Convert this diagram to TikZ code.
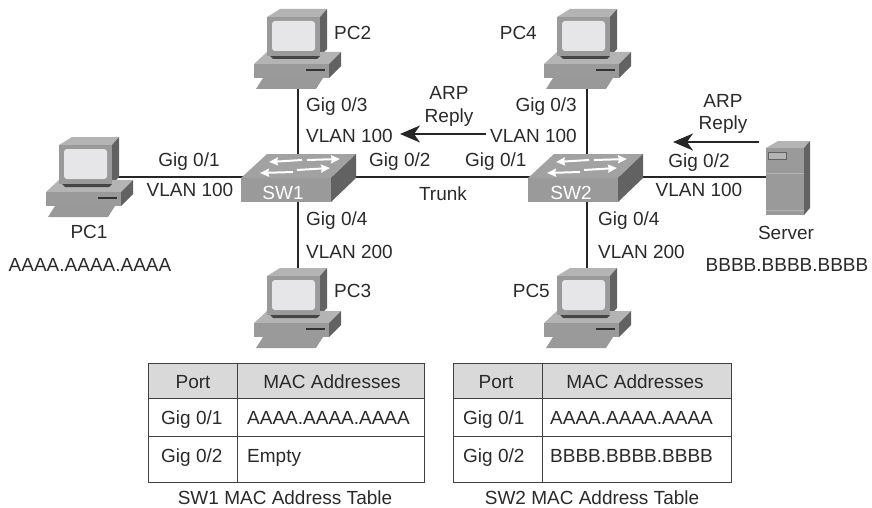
\documentclass[tikz,border=0pt]{standalone}
\usepackage{fontspec}
\setmainfont{Liberation Sans}
\usetikzlibrary{arrows.meta}

\definecolor{icontop}{HTML}{B4B4B4}
\definecolor{iconfront}{HTML}{9A9A9A}
\definecolor{iconside}{HTML}{626262}
\definecolor{iconscreen}{HTML}{E6E6E8}
\definecolor{txtcolor}{HTML}{2A2A2A}

\tikzset{
  lbl/.style={inner sep=0pt,text=txtcolor,font=\fontsize{19}{23}\selectfont,text height=13.6pt,text depth=0pt},
  link/.style={line width=1.6pt,draw=black!85},
  reply/.style={line width=1.3pt,draw=black!85,-{Stealth[length=20pt,width=17pt,inset=6pt]}},
  tabline/.style={line width=1pt,draw=black!75},
  swarrow/.style={white,line width=2pt,-{Stealth[length=9pt,width=8pt,inset=1pt]}},
  pics/pcicon/.style={code={
    % monitor
    \fill[icontop] (0,0) -- (13,-8) -- (60,-8) -- (53,0) -- cycle;
    \fill[iconside] (53,0) -- (60,-8) -- (60,32) -- (53,39) -- cycle;
    % base
    \fill[icontop] (-13,47) -- (0,35) -- (74,35) -- (62,47) -- cycle;
    \fill[iconside] (62,47) -- (74,35) -- (74,49) -- (62,61) -- cycle;
    \fill[iconfront] (-13,47) rectangle (62,61);
    \fill[iconside!70!black] (3,39) -- (53,39) -- (50,42) -- (6,42) -- cycle;
    \fill[iconfront] (0,0) rectangle (53,39);
    \fill[iconscreen,rounded corners=3pt] (5,4) rectangle (48,34);
    \fill[black!80] (39,52) rectangle (58,54);
    % keyboard
    \fill[icontop!85!black] (-4,61) -- (56,61) -- (49,72) -- (-11,72) -- cycle;
  }},
  pics/swicon/.style={code={
    \fill[icontop!90!black] (0,0) -- (26,-24) -- (115,-24) -- (90,0) -- cycle;
    \fill[iconfront] (0,0) rectangle (90,24);
    \fill[iconside] (90,0) -- (115,-24) -- (115,0) -- (90,24) -- cycle;
    % arrows on top
    \draw[swarrow] (61,-18) -- (28,-16);
    \draw[swarrow] (66,-18) -- (99,-19);
    \draw[swarrow] (52,-6) -- (19,-5);
    \draw[swarrow] (56,-8) -- (89,-10);
  }},
  pics/servericon/.style={code={
    \fill[icontop] (0,0) -- (12,-7) -- (44,-7) -- (38,0) -- cycle;
    \fill[iconside] (38,0) -- (44,-7) -- (44,60) -- (38,67) -- cycle;
    \fill[iconfront] (0,0) rectangle (38,67);
    \fill[icontop] (2,4) rectangle (20,11);
    \draw[iconside] (2,4) rectangle (20,11);
    \draw[icontop,line width=1pt] (0,25) -- (38,25);
    \draw[icontop,line width=1pt] (0,62) -- (38,62);
  }},
}

\begin{document}
\begin{tikzpicture}[x=1pt,y=-1pt]
  \useasboundingbox (0,0) rectangle (872,508);
  % link end points
  \coordinate (PC1) at (100,177);
  \coordinate (PC2) at (298,60);
  \coordinate (PC3) at (298,290);
  \coordinate (PC4) at (587,60);
  \coordinate (PC5) at (587,290);
  \coordinate (SW1) at (298,177);
  \coordinate (SW2) at (587,177);
  \coordinate (Server) at (785,177);
  % links
  \draw[link] (PC1) -- (SW1);
  \draw[link] (PC2) -- (PC3);
  \draw[link] (SW1) -- (SW2);
  \draw[link] (PC4) -- (PC5);
  \draw[link] (SW2) -- (Server);
  % devices
  \pic at (59,145) {pcicon};
  \pic at (267,17) {pcicon};
  \pic at (267,276) {pcicon};
  \pic at (557,17) {pcicon};
  \pic at (557,276) {pcicon};
  \pic at (241,178) {swicon};
  \pic at (528,178) {swicon};
  \pic at (766,148) {servericon};
  % device labels
  \node[lbl,text=white] (SW1name) at (283,193) {SW1};
  \node[lbl,text=white] (SW2name) at (571,193) {SW2};
  \node[lbl] (PC1name) at (89,232) {PC1};
  \node[lbl,anchor=west] (PC2name) at (334,33) {PC2};
  \node[lbl,anchor=west] (PC3name) at (334,291) {PC3};
  \node[lbl,anchor=east] (PC4name) at (537,33) {PC4};
  \node[lbl,anchor=east] (PC5name) at (550,291) {PC5};
  \node[lbl] (Servername) at (786,233) {Server};
  \node[lbl] (macA) at (90,265) {AAAA.AAAA.AAAA};
  \node[lbl] (macB) at (787,265) {BBBB.BBBB.BBBB};
  % port labels of SW1
  \node[lbl] (s1g1) at (189,160) {Gig 0/1};
  \node[lbl] (s1v1) at (190,190) {VLAN 100};
  \node[lbl,anchor=west] (s1g3) at (306,105) {Gig 0/3};
  \node[lbl,anchor=west] (s1v3) at (306,136) {VLAN 100};
  \node[lbl,anchor=west] (s1g2) at (369,160) {Gig 0/2};
  \node[lbl,anchor=west] (s1g4) at (306,219) {Gig 0/4};
  \node[lbl,anchor=west] (s1v4) at (306,252) {VLAN 200};
  % port labels of SW2
  \node[lbl,anchor=west] (s2g1) at (465,160) {Gig 0/1};
  \node[lbl,anchor=east] (s2g3) at (577,105) {Gig 0/3};
  \node[lbl,anchor=east] (s2v3) at (577,136) {VLAN 100};
  \node[lbl] (s2g2) at (699,161) {Gig 0/2};
  \node[lbl] (s2v2) at (699,190) {VLAN 100};
  \node[lbl,anchor=west] (s2g4) at (598,219) {Gig 0/4};
  \node[lbl,anchor=west] (s2v4) at (598,252) {VLAN 200};
  \node[lbl] (trunk) at (443,194) {Trunk};
  % ARP replies
  \node[lbl] (arpA) at (449,93) {ARP};
  \node[lbl] (replyA) at (449,116) {Reply};
  \node[lbl] (arpB) at (723,101) {ARP};
  \node[lbl] (replyB) at (723,123) {Reply};
  \coordinate (arpAend) at (486,134);
  \coordinate (arpAtip) at (400,134);
  \coordinate (arpBend) at (759,142);
  \coordinate (arpBtip) at (673,142);
  \draw[reply] (arpAend) -- (arpAtip);
  \draw[reply] (arpBend) -- (arpBtip);
  % SW1 table
  \fill[black!15] (148,363) rectangle (424,398);
  \draw[tabline] (148,363) rectangle (424,482);
  \draw[tabline] (148,398) -- (424,398);
  \draw[tabline] (148,436) -- (424,436);
  \draw[tabline] (237,363) -- (237,482);
  \node[lbl] (t1port) at (193,382) {Port};
  \node[lbl] (t1mac) at (332,382) {MAC Addresses};
  \node[lbl,anchor=west] (t1g1) at (161,418) {Gig 0/1};
  \node[lbl,anchor=west] (t1g2) at (161,456) {Gig 0/2};
  \node[lbl,anchor=west] (t1a) at (247,418) {AAAA.AAAA.AAAA};
  \node[lbl,anchor=west] (t1b) at (247,456) {Empty};
  \node[lbl] (t1cap) at (285,498) {SW1 MAC Address Table};
  % SW2 table
  \fill[black!15] (453,363) rectangle (731,398);
  \draw[tabline] (453,363) rectangle (731,482);
  \draw[tabline] (453,398) -- (731,398);
  \draw[tabline] (453,436) -- (731,436);
  \draw[tabline] (542,363) -- (542,482);
  \node[lbl] (t2port) at (496,382) {Port};
  \node[lbl] (t2mac) at (635,382) {MAC Addresses};
  \node[lbl,anchor=west] (t2g1) at (463,418) {Gig 0/1};
  \node[lbl,anchor=west] (t2g2) at (463,456) {Gig 0/2};
  \node[lbl,anchor=west] (t2a) at (550,418) {AAAA.AAAA.AAAA};
  \node[lbl,anchor=west] (t2b) at (550,456) {BBBB.BBBB.BBBB};
  \node[lbl] (t2cap) at (592,498) {SW2 MAC Address Table};
\end{tikzpicture}
\end{document}
